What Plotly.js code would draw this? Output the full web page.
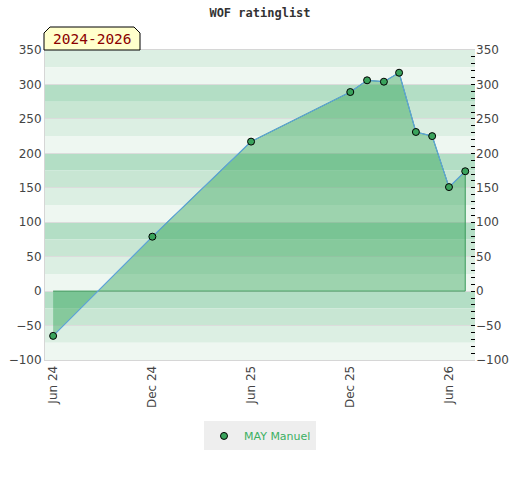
<!DOCTYPE html>
<html>
<head>
<meta charset="utf-8">
<script src="https://cdn.plot.ly/plotly-3.0.1.min.js"></script>
<style>html,body{margin:0;padding:0;background:#fff;}#chart{width:520px;height:480px;}</style>
</head>
<body>
<div id="chart"></div>
<script>
const dates = ["2024-06-01","2024-12-01","2025-06-01","2025-12-01","2026-01-01","2026-02-01","2026-03-01","2026-04-01","2026-05-01","2026-06-01","2026-07-01"];
const ratings = [-65, 79, 217, 289, 306, 304, 317, 231, 225, 151, 174];
const playerName = "MAY Manuel";
const periodLabel = "2024-2026";
const chartTitle = "WOF ratinglist";
const tickDates = ["2024-06-01","2024-12-01","2025-06-01","2025-12-01","2026-06-01"];
const tickLabels = ["Jun 24","Dec 24","Jun 25","Dec 25","Jun 26"];

const yMin = -100, yMax = 350;
const bandColors = ["#b3dec5","#c8e6d3","#dcefe3","#eef7f1"];
const shapes = [];
for (let top = yMax; top > yMin; top -= 25) {
  const idx = ((((400 - top) / 25) % 4) + 4) % 4;
  shapes.push({type:"rect", xref:"paper", yref:"y", x0:0, x1:1, y0:top-25, y1:top,
    fillcolor:bandColors[idx], line:{width:0}, layer:"below"});
}
const bx0 = -1/430, bx1 = 95/430, by0 = (360-50)/310, by1 = (360-27)/310, cx = 6/430, cy = 6/310;
shapes.push({type:"path", xref:"paper", yref:"paper",
  path:`M ${bx0},${by0} L ${bx0},${by1-cy} L ${bx0+cx},${by1} L ${bx1-cx},${by1} L ${bx1},${by1-cy} L ${bx1},${by0} Z`,
  fillcolor:"#ffffcc", line:{color:"#000", width:1}, layer:"above"});

const polyX = dates.concat([dates[dates.length-1], dates[0]]);
const polyY = ratings.concat([0, 0]);

const traces = [
  {x: polyX, y: polyY, mode:"lines", fill:"toself", fillcolor:"rgba(35,158,75,0.4)",
   line:{color:"#3a9a5a", width:1}, showlegend:false, hoverinfo:"skip"},
  {x: dates, y: ratings, mode:"lines", line:{color:"#5fa3dc", width:1.2}, showlegend:false},
  {x: dates, y: ratings, mode:"markers", name: playerName,
   marker:{color:"#3aa35c", size:7, line:{color:"#000", width:1}}},
  {x: [dates[0]], y: [ratings[0]], yaxis:"y2", mode:"markers", marker:{opacity:0}, showlegend:false, hoverinfo:"skip"}
];

const tickFont = {family:"DejaVu Sans, sans-serif", size:12, color:"#444"};
const layout = {
  width:520, height:480,
  margin:{l:45, r:45, t:50, b:120},
  paper_bgcolor:"#fff", plot_bgcolor:"#fff",
  title:{text: chartTitle, x:0.5, xanchor:"center", y:0.973, yanchor:"middle",
    font:{family:"DejaVu Sans Mono, monospace", size:12, color:"#333", weight:"bold"}},
  xaxis:{type:"date", range:["2024-05-17","2026-07-19"], tickvals: tickDates, ticktext: tickLabels,
    tickangle:-90, tickfont: tickFont, showgrid:false, zeroline:false,
    showline:true, linecolor:"#d6d6d6", mirror:true, ticks:""},
  yaxis:{range:[yMin, yMax], dtick:50, tick0:0, tickfont: tickFont, showgrid:true,
    gridcolor:"#dcdcdc", gridwidth:1, zeroline:false, showline:true, linecolor:"#d6d6d6", ticks:""},
  yaxis2:{range:[yMin, yMax], dtick:50, tick0:0, overlaying:"y", side:"right", tickfont: tickFont,
    showgrid:false, zeroline:false, ticks:"inside", ticklen:4, tickcolor:"#000", tickwidth:1,
    minor:{dtick:10, ticks:"inside", ticklen:4, tickcolor:"#000", tickwidth:1, showgrid:false}},
  legend:{orientation:"h", x:0.5, xanchor:"center", y:-0.245, yanchor:"middle", itemwidth:30,
    bgcolor:"#eeeeee", font:{family:"DejaVu Sans, sans-serif", size:11, color:"#3cb063"}},
  shapes: shapes,
  annotations:[{xref:"paper", yref:"paper", x:(bx0+bx1)/2, y:(by0+by1)/2 - 0.002, text: periodLabel, showarrow:false,
    xanchor:"center", yanchor:"middle", font:{family:"DejaVu Sans Mono, monospace", size:14.5, color:"#8b0000"}}]
};
Plotly.newPlot("chart", traces, layout, {displayModeBar:false, staticPlot:true});
</script>
</body>
</html>
